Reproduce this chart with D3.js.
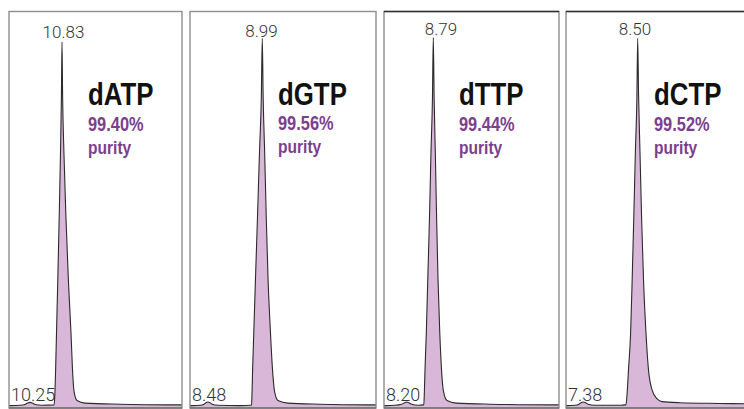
<!DOCTYPE html>
<html>
<head>
<meta charset="utf-8">
<script src="https://cdn.jsdelivr.net/npm/d3@7/dist/d3.min.js"></script>
<style>
  html, body { margin: 0; padding: 0; background: #fff; }
  svg { display: block; }
</style>
</head>
<body>
<script>
// ---------------- DATA ----------------
const names = ["dATP", "dGTP", "dTTP", "dCTP"];
const purity = ["99.40%", "99.56%", "99.44%", "99.52%"];
const purityWord = "purity";
const mainPeakTimes = [10.83, 8.99, 8.79, 8.50];
const minorPeakTimes = [10.25, 8.48, 8.20, 7.38];
const mainPeakLabels = ["10.83", "8.99", "8.79", "8.50"];
const minorPeakLabels = ["10.25", "8.48", "8.20", "7.38"];
// retention-time window shown in each panel (min)
const timeDomains = [[9.869, 13.005], [8.311, 10.058], [7.697, 11.577], [7.024, 10.689]];

// chromatogram traces: retention time (min) and relative absorbance (% of main peak)
const timesATP = [9.869, 10.069, 10.159, 10.205, 10.25, 10.295, 10.341, 10.467, 10.685, 10.700, 10.714, 10.730, 10.754, 10.779, 10.803, 10.819, 10.830, 10.841, 10.864, 10.901, 10.944, 10.993, 11.020, 11.048, 11.102, 11.247, 11.881, 13.005];
const valuesATP = [0.1, 0.2, 0.4, 0.8, 1.0, 0.8, 0.4, 0.2, 0.3, 3, 10, 20, 35, 52, 70, 85, 100, 85, 70, 52, 35, 20, 10, 4, 1.5, 0.8, 0.5, 0.3];

const timesGTP = [8.311, 8.330, 8.405, 8.443, 8.461, 8.480, 8.499, 8.518, 8.574, 8.781, 8.875, 8.889, 8.893, 8.899, 8.910, 8.926, 8.945, 8.964, 8.981, 8.990, 8.998, 9.012, 9.027, 9.044, 9.067, 9.086, 9.105, 9.137, 9.231, 9.532, 10.058];
const valuesGTP = [0.1, 0.1, 0.2, 0.5, 0.9, 1.1, 0.9, 0.5, 0.2, 0.1, 0.2, 0.3, 3, 10, 20, 35, 52, 70, 85, 101, 85, 70, 52, 35, 20, 10, 4, 1.5, 0.8, 0.5, 0.3];

const timesTTP = [7.697, 7.741, 7.941, 8.089, 8.156, 8.200, 8.245, 8.311, 8.451, 8.562, 8.579, 8.590, 8.606, 8.635, 8.668, 8.706, 8.739, 8.772, 8.790, 8.808, 8.834, 8.863, 8.894, 8.934, 8.972, 9.016, 9.094, 9.293, 10.047, 11.577];
const valuesTTP = [0.1, 0.1, 0.2, 0.5, 0.9, 1.1, 0.9, 0.5, 0.2, 0.3, 0.3, 3, 10, 20, 35, 52, 70, 85, 101.2, 85, 70, 52, 35, 20, 10, 4, 1.5, 0.8, 0.5, 0.3];

const timesCTP = [7.024, 7.044, 7.209, 7.291, 7.333, 7.380, 7.425, 7.477, 7.621, 8.136, 8.239, 8.259, 8.280, 8.311, 8.354, 8.387, 8.420, 8.453, 8.484, 8.500, 8.519, 8.547, 8.580, 8.619, 8.671, 8.722, 8.794, 8.897, 9.000, 9.371, 10.194, 10.689];
const valuesCTP = [0.1, 0.1, 0.2, 0.5, 0.9, 1.1, 0.9, 0.5, 0.2, 0.2, 0.3, 0.3, 3, 10, 20, 35, 52, 70, 85, 101, 85, 70, 52, 35, 20, 10, 4.5, 2, 1.2, 0.9, 0.7, 0.6];

const traceTimes = [timesATP, timesGTP, timesTTP, timesCTP];
const traceValues = [valuesATP, valuesGTP, valuesTTP, valuesCTP];

// ---------------- LAYOUT ----------------
const W = 744, H = 409;
const panelLeft = [9, 190, 384, 566];
const panelRight = [182, 376, 559, 744];
const panelTop = 11.5, panelBottom = 408;
const topDark = [false, false, true, true];
const titleX = [88, 278, 459, 654];
const titleY = [105, 104.5, 104.5, 105];
const pctY = [131, 129.5, 130.5, 131];
const purityY = [154, 152.5, 153.5, 154];
const mainLabelDx = [1.5, -0.8, 7.7, -2.7];
const mainLabelY = [37.5, 37, 35, 35];

const y = d3.scaleLinear().domain([0, 100]).range([406, 42]);

const svg = d3.select("body").append("svg")
  .attr("width", W).attr("height", H)
  .attr("viewBox", `0 0 ${W} ${H}`);

const defs = svg.append("defs");

names.forEach((name, i) => {
  const x = d3.scaleLinear().domain(timeDomains[i]).range([panelLeft[i], panelRight[i]]);
  const g = svg.append("g").attr("class", "panel");

  defs.append("clipPath").attr("id", "clip" + i)
    .append("rect")
    .attr("x", panelLeft[i]).attr("y", panelTop)
    .attr("width", (i === 3 ? 800 : panelRight[i]) - panelLeft[i])
    .attr("height", panelBottom - panelTop);

  const pts = traceTimes[i].map((t, k) => ({ t, v: traceValues[i][k] }));

  const area = d3.area()
    .x(d => x(d.t)).y0(y(0) + 1.5).y1(d => y(d.v))
    .curve(d3.curveMonotoneX);
  const line = d3.line()
    .x(d => x(d.t)).y(d => y(d.v))
    .curve(d3.curveMonotoneX);

  const plot = g.append("g").attr("clip-path", `url(#clip${i})`);
  plot.append("path").datum(pts)
    .attr("d", area)
    .attr("fill", "#d9b7d8");
  plot.append("path").datum(pts)
    .attr("d", line)
    .attr("fill", "none")
    .attr("stroke", "#2b2b2b")
    .attr("stroke-width", 1.1)
    .attr("stroke-linejoin", "round");

  // frame
  const right = i === 3 ? 760 : panelRight[i];
  g.append("rect")
    .attr("x", panelLeft[i]).attr("y", panelTop)
    .attr("width", right - panelLeft[i]).attr("height", panelBottom - panelTop)
    .attr("fill", "none").attr("stroke", "#8e8e8e").attr("stroke-width", 1.4);
  if (topDark[i]) {
    g.append("line")
      .attr("x1", panelLeft[i]).attr("x2", right)
      .attr("y1", panelTop).attr("y2", panelTop)
      .attr("stroke", "#333").attr("stroke-width", 1.4);
  }
  g.append("line")
    .attr("x1", panelLeft[i]).attr("x2", right)
    .attr("y1", panelBottom).attr("y2", panelBottom)
    .attr("stroke", "#555").attr("stroke-width", 1.2);

  // peak labels
  g.append("text")
    .attr("x", x(mainPeakTimes[i]) + mainLabelDx[i])
    .attr("y", mainLabelY[i])
    .attr("text-anchor", "middle")
    .attr("font-family", "Roboto, 'Liberation Sans', sans-serif")
    .attr("font-weight", 300)
    .attr("font-size", 17)
    .attr("fill", "#333")
    .text(mainPeakLabels[i]);

  g.append("text")
    .attr("x", panelLeft[i] + 2)
    .attr("y", 400.5)
    .attr("text-anchor", "start")
    .attr("font-family", "Roboto, 'Liberation Sans', sans-serif")
    .attr("font-weight", 300)
    .attr("font-size", 18)
    .attr("fill", "#333")
    .text(minorPeakLabels[i]);

  // titles
  const cond = "scale(0.82,1)";
  g.append("text")
    .attr("transform", `translate(${titleX[i]},${titleY[i]}) ${cond}`)
    .attr("font-family", "'Liberation Sans', Arial, sans-serif")
    .attr("font-weight", 700)
    .attr("font-size", 31.5)
    .attr("fill", "#111")
    .text(name);
  g.append("text")
    .attr("transform", `translate(${titleX[i]},${pctY[i]}) ${cond}`)
    .attr("font-family", "'Liberation Sans', Arial, sans-serif")
    .attr("font-weight", 700)
    .attr("font-size", 20)
    .attr("fill", "#7b3f8e")
    .text(purity[i]);
  g.append("text")
    .attr("transform", `translate(${titleX[i]},${purityY[i]}) ${cond}`)
    .attr("font-family", "'Liberation Sans', Arial, sans-serif")
    .attr("font-weight", 700)
    .attr("font-size", 19)
    .attr("fill", "#7b3f8e")
    .text(purityWord);
});
</script>
</body>
</html>
